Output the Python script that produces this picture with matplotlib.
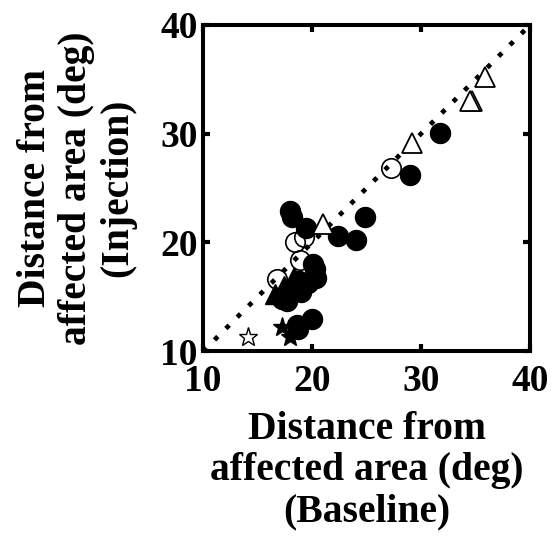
import numpy as np
import matplotlib.pyplot as plt

plt.rcParams['font.family'] = ['Liberation Serif', 'DejaVu Serif']
plt.rcParams['font.weight'] = 'bold'

# baseline vs injection distances (deg), grouped by marker type
filled_circle_x = [18.0, 18.2, 19.4, 24.9, 22.4, 24.0, 31.7, 29.0, 20.1, 20.3, 20.4,
                   19.6, 18.8, 18.2, 17.7, 17.2, 19.0, 20.0, 18.6, 18.75]
filled_circle_y = [22.9, 22.3, 21.3, 22.3, 20.6, 20.2, 30.1, 26.2, 18.05, 17.6, 16.7,
                   16.3, 16.5, 15.8, 14.6, 14.8, 15.4, 13.0, 12.4, 12.0]

open_circle_x = [27.2, 18.4, 19.3, 18.9, 16.8]
open_circle_y = [26.8, 20.0, 20.5, 18.35, 16.6]

open_tri_x = [29.2, 34.65, 34.5, 35.9, 21.0]
open_tri_y = [29.1, 33.0, 33.0, 35.25, 21.7]

filled_tri_x = [16.6, 17.4, 18.3, 19.0]
filled_tri_y = [15.3, 16.0, 16.8, 16.4]

open_star_x = [14.15]
open_star_y = [11.3]

filled_star_x = [17.2, 18.0]
filled_star_y = [12.2, 11.3]

unity = [10, 40]

fig = plt.figure(figsize=(5.55, 5.42), dpi=100)
ax = fig.add_axes([0.366, 0.352, 0.589, 0.602])

ax.plot(unity, unity, color='black', linestyle=(0, (1, 2.4)), linewidth=3.4,
        dash_capstyle='butt', zorder=1)

ax.plot(filled_circle_x, filled_circle_y, 'o', ms=14.4, mfc='black', mec='black', zorder=2)
ax.plot(filled_tri_x, filled_tri_y, '^', ms=14, mfc='black', mec='black', zorder=2)
ax.plot(open_circle_x, open_circle_y, 'o', ms=14, mfc='none', mec='black', mew=1.2, zorder=3)
ax.plot(open_tri_x, open_tri_y, '^', ms=15, mfc='white', mec='black', mew=1.3, zorder=3)
ax.plot(open_star_x, open_star_y, '*', ms=14, mfc='white', mec='black', mew=1.0, zorder=3)
ax.plot(filled_star_x, filled_star_y, '*', ms=14, mfc='black', mec='black', zorder=3)

ax.set_xlim(10, 40)
ax.set_ylim(10, 40)
ax.set_xticks([10, 20, 30, 40])
ax.set_yticks([10, 20, 30, 40])
ax.tick_params(direction='in', length=5, width=3, labelsize=27, top=True, right=True)
ax.tick_params(axis='x', pad=9)
ax.tick_params(axis='y', pad=4)
for s in ax.spines.values():
    s.set_linewidth(2.9)

ax.set_xlabel('Distance from\naffected area (deg)\n(Baseline)', fontsize=28.5,
              fontweight='bold', linespacing=1.15)
ax.set_ylabel('Distance from\naffected area (deg)\n(Injection)', fontsize=28.5,
              fontweight='bold', linespacing=1.15)
ax.xaxis.set_label_coords(0.5, -0.183)
ax.yaxis.set_label_coords(-0.205, 0.5)

fig.savefig('out.png', dpi=100)
